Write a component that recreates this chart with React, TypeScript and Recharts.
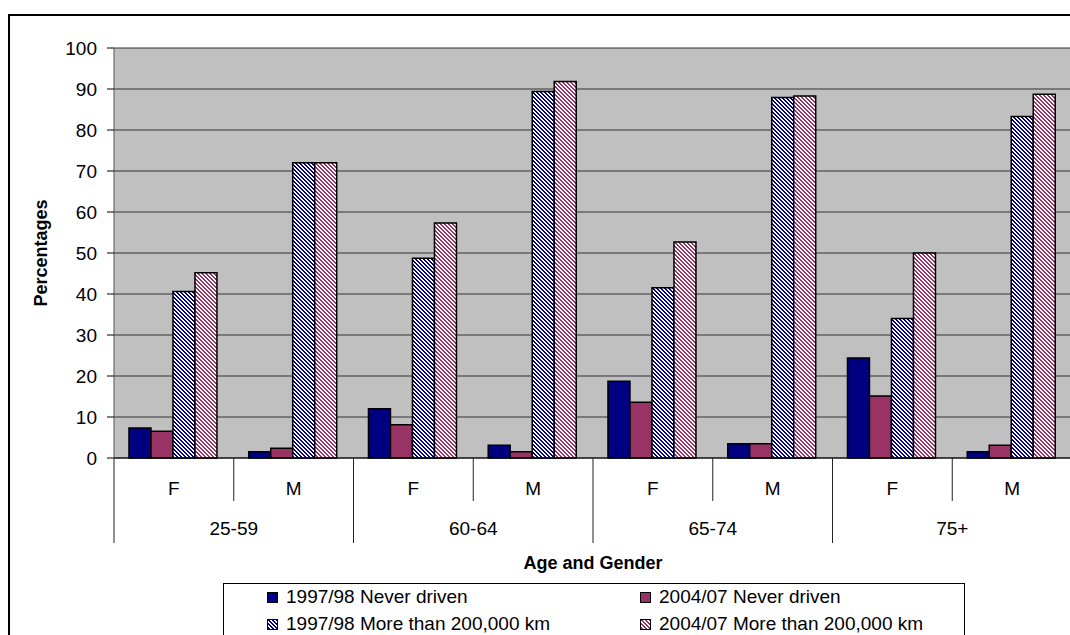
import React from 'react';
import { BarChart, Bar, XAxis, YAxis, CartesianGrid, Legend } from 'recharts';

// Age bands and genders on the two-tier category axis
const ageGroups = ['25-59', '60-64', '65-74', '75+'];
const genders = ['F', 'M'];
const yTicks = [0, 10, 20, 30, 40, 50, 60, 70, 80, 90, 100];

// Percentages per age/gender cell (F, M for each age band in order)
const never9798 = [7.3, 1.5, 12.0, 3.1, 18.7, 3.5, 24.4, 1.5];
const never0407 = [6.5, 2.4, 8.1, 1.5, 13.6, 3.5, 15.1, 3.1];
const over9798 = [40.6, 72.0, 48.7, 89.4, 41.5, 87.9, 34.0, 83.3];
const over0407 = [45.2, 72.0, 57.3, 91.8, 52.7, 88.3, 50.0, 88.7];

const seriesNames = [
  '1997/98 Never driven',
  '2004/07 Never driven',
  '1997/98 More than 200,000 km',
  '2004/07 More than 200,000 km',
];

const data = ageGroups.flatMap((age, gi) =>
  genders.map((gender, si) => {
    const i = gi * genders.length + si;
    return {
      key: `${age} ${gender}`,
      age,
      gender,
      never9798: never9798[i],
      never0407: never0407[i],
      over9798: over9798[i],
      over0407: over0407[i],
    };
  })
);

const FONT = '"Liberation Sans", Arial, Helvetica, sans-serif';
const NAVY = '#000080';
const PLUM = '#993366';

const CHART_W = 1080;
const CHART_H = 660;
const MARGIN = { top: 40, right: 16, left: 0, bottom: 120 };
const Y_AXIS_W = 106;
const X_AXIS_H = 90;
const BAND = (CHART_W - MARGIN.left - MARGIN.right - Y_AXIS_W) / data.length;

// Pixel-aligned 4x4 "wide downward diagonal" hatch
const HATCH_CELLS = [
  [0, 0], [1, 0],
  [1, 1], [2, 1],
  [2, 2], [3, 2],
  [3, 3], [0, 3],
];

function Hatch({ id, color }: { id: string; color: string }) {
  return (
    <pattern id={id} patternUnits="userSpaceOnUse" width={4} height={4}>
      <rect width={4} height={4} fill="#fff" />
      {HATCH_CELLS.map(([cx, cy], k) => (
        <rect key={k} x={cx} y={cy} width={1} height={1} fill={color} shapeRendering="crispEdges" />
      ))}
    </pattern>
  );
}

// Gender label per band, with separators and the age band label under each F/M pair
function CategoryTick(props: any) {
  const { x, y, payload } = props;
  const i: number = payload?.index ?? props.index ?? 0;
  const row = data[i];
  const left = x - BAND / 2;
  const startsGroup = i % 2 === 0;
  return (
    <g>
      <line x1={left} y1={y} x2={left} y2={y + (startsGroup ? 85 : 43)} stroke="#222" strokeWidth={1} />
      {i === data.length - 1 && (
        <line x1={x + BAND / 2} y1={y} x2={x + BAND / 2} y2={y + 85} stroke="#222" strokeWidth={1} />
      )}
      <text x={x} y={y + 30} textAnchor="middle" dominantBaseline="central" fontSize={19} fill="#000" fontFamily={FONT}>
        {row.gender}
      </text>
      {!startsGroup && (
        <text x={left} y={y + 70} textAnchor="middle" dominantBaseline="central" fontSize={19} fill="#000" fontFamily={FONT}>
          {row.age}
        </text>
      )}
    </g>
  );
}

const renderYTitle = (props: any) => {
  const vb = props.viewBox || {};
  const cx = (vb.x ?? 0) + 33;
  const cy = (vb.y ?? 0) + (vb.height ?? 0) / 2;
  return (
    <text
      x={cx}
      y={cy}
      transform={`rotate(-90 ${cx} ${cy})`}
      textAnchor="middle"
      dominantBaseline="central"
      fontSize={18}
      fontWeight="bold"
      fill="#000"
      fontFamily={FONT}
    >
      Percentages
    </text>
  );
};

const renderXTitle = (props: any) => {
  const vb = props.viewBox || {};
  return (
    <text
      x={(vb.x ?? 0) + (vb.width ?? 0) / 2}
      y={(vb.y ?? 0) + 105}
      textAnchor="middle"
      dominantBaseline="central"
      fontSize={18}
      fontWeight="bold"
      fill="#000"
      fontFamily={FONT}
    >
      Age and Gender
    </text>
  );
};

function Swatch({ color, hatched, id }: { color: string; hatched: boolean; id: string }) {
  return (
    <svg width={11} height={11} style={{ display: 'block' }}>
      {hatched && (
        <defs>
          <Hatch id={id} color={color} />
        </defs>
      )}
      <rect x={0.5} y={0.5} width={10} height={10} fill={hatched ? `url(#${id})` : color} stroke="#000" strokeWidth={1} />
    </svg>
  );
}

const legendItems = [
  { name: seriesNames[0], color: NAVY, hatched: false, col: 0, row: 0 },
  { name: seriesNames[1], color: PLUM, hatched: false, col: 1, row: 0 },
  { name: seriesNames[2], color: NAVY, hatched: true, col: 0, row: 1 },
  { name: seriesNames[3], color: PLUM, hatched: true, col: 1, row: 1 },
];

const renderLegend = () => (
  <div
    style={{
      position: 'relative',
      width: 742,
      height: 70,
      border: '1px solid #000',
      boxSizing: 'border-box',
      background: '#fff',
      fontFamily: FONT,
      fontSize: 19,
      color: '#000',
    }}
  >
    {legendItems.map((it, k) => (
      <div
        key={k}
        style={{
          position: 'absolute',
          left: it.col === 0 ? 43 : 416,
          top: it.row === 0 ? 1 : 28,
          height: 24,
          display: 'flex',
          alignItems: 'center',
          whiteSpace: 'nowrap',
        }}
      >
        <Swatch color={it.color} hatched={it.hatched} id={`legend-hatch-${k}`} />
        <span style={{ marginLeft: 8, lineHeight: '24px' }}>{it.name}</span>
      </div>
    ))}
  </div>
);

export default function App() {
  return (
    <div
      style={{
        position: 'absolute',
        left: 8,
        top: 8,
        width: 1062,
        height: 627,
        overflow: 'hidden',
        background: '#fff',
        fontFamily: FONT,
      }}
    >
      <div
        style={{
          position: 'absolute',
          left: 0,
          top: 6,
          width: 1200,
          height: 800,
          border: '2px solid #000',
          boxSizing: 'border-box',
        }}
      />
      <div style={{ position: 'absolute', left: 0, top: 0 }}>
        <BarChart
          width={CHART_W}
          height={CHART_H}
          data={data}
          margin={MARGIN}
          barCategoryGap="12.5%"
          barGap={0}
        >
          <defs>
            <Hatch id="hatchNavy" color={NAVY} />
            <Hatch id="hatchPlum" color={PLUM} />
          </defs>
          <CartesianGrid vertical={false} stroke="#333" fill="#C0C0C0" />
          <XAxis
            dataKey="key"
            interval={0}
            height={X_AXIS_H}
            tickSize={0}
            tickMargin={0}
            tickLine={false}
            axisLine={{ stroke: '#000', strokeWidth: 1 }}
            tick={<CategoryTick />}
            label={{ content: renderXTitle }}
          />
          <YAxis
            width={Y_AXIS_W}
            domain={[0, 100]}
            ticks={yTicks}
            interval={0}
            tickSize={7}
            tickMargin={10}
            tickLine={{ stroke: '#000' }}
            axisLine={{ stroke: '#555' }}
            tick={{ fontSize: 19, fill: '#000', fontFamily: FONT }}
            label={{ content: renderYTitle }}
          />
          <Legend
            layout="horizontal"
            verticalAlign="middle"
            align="center"
            content={renderLegend}
            wrapperStyle={{ left: 215, top: 575, width: 742, height: 70 }}
          />
          <Bar dataKey="never9798" name={seriesNames[0]} fill={NAVY} stroke="#000" strokeWidth={1.5} isAnimationActive={false} />
          <Bar dataKey="never0407" name={seriesNames[1]} fill={PLUM} stroke="#000" strokeWidth={1.5} isAnimationActive={false} />
          <Bar dataKey="over9798" name={seriesNames[2]} fill="url(#hatchNavy)" stroke="#000" strokeWidth={1.5} isAnimationActive={false} />
          <Bar dataKey="over0407" name={seriesNames[3]} fill="url(#hatchPlum)" stroke="#000" strokeWidth={1.5} isAnimationActive={false} />
        </BarChart>
      </div>
    </div>
  );
}
